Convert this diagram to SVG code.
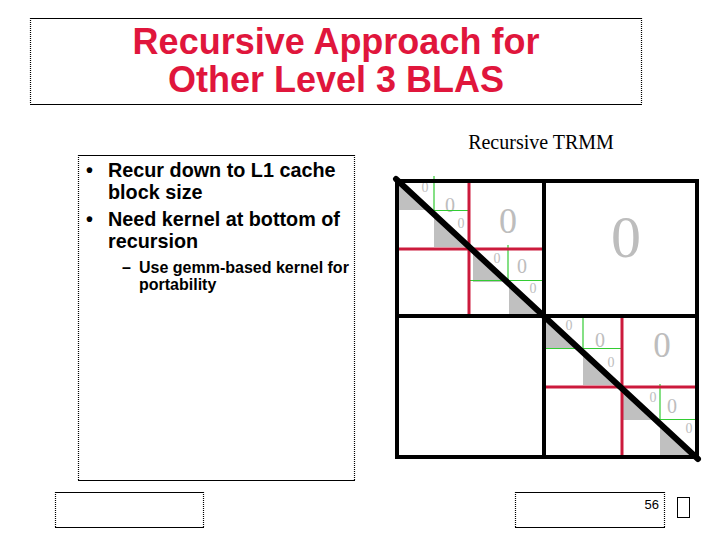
<svg xmlns="http://www.w3.org/2000/svg" width="720" height="540" viewBox="0 0 720 540">
<style>
.solid{stroke:#000;stroke-width:1.2;fill:none}
.dot{stroke:#000;stroke-width:1.2;stroke-dasharray:1 1;fill:none}
.title{font-family:"Liberation Sans",Arial,sans-serif;font-weight:bold;font-size:36px;fill:#e0163c;text-anchor:middle}
.b1{font-family:"Liberation Sans",Arial,sans-serif;font-weight:bold;font-size:19.8px;fill:#000}
.b2{font-family:"Liberation Sans",Arial,sans-serif;font-weight:bold;font-size:16px;fill:#000}
.z{font-family:"Liberation Serif","Times New Roman",serif;fill:#bdbdbd;text-anchor:middle}
.tri{fill:#c0c0c0}
.g{stroke:#33cc33;stroke-width:1.2;fill:none}
.r{stroke:#cc1a3c;stroke-width:3;fill:none}
.k{stroke:#000;stroke-width:4;fill:none}
</style>
<rect width="720" height="540" fill="#fff"/>

<g id="title">
  <line class="solid" x1="30" y1="18.5" x2="642" y2="18.5"/>
  <line class="solid" x1="30" y1="104.5" x2="642" y2="104.5"/>
  <line class="dot" x1="30.5" y1="18" x2="30.5" y2="104"/>
  <line class="dot" x1="641.5" y1="18" x2="641.5" y2="104"/>
  <text class="title" x="336" y="54">Recursive Approach for</text>
  <text class="title" x="336" y="92">Other Level 3 BLAS</text>
</g>

<g id="caption">
  <text x="541" y="149" font-family="'Liberation Serif','Times New Roman',serif" font-size="20" text-anchor="middle" fill="#000">Recursive TRMM</text>
</g>

<g id="bullets">
  <line class="solid" x1="78" y1="155.5" x2="355" y2="155.5"/>
  <line class="solid" x1="78" y1="480.5" x2="355" y2="480.5"/>
  <line class="dot" x1="78.5" y1="155" x2="78.5" y2="480"/>
  <line class="dot" x1="354.5" y1="155" x2="354.5" y2="480"/>
  <text class="b1" x="86" y="177">•</text>
  <text class="b1" x="108" y="177">Recur down to L1 cache</text>
  <text class="b1" x="108" y="199">block size</text>
  <text class="b1" x="86" y="226">•</text>
  <text class="b1" x="108" y="226">Need kernel at bottom of</text>
  <text class="b1" x="108" y="248">recursion</text>
  <text class="b2" x="122" y="273">–</text>
  <text class="b2" x="139" y="273">Use gemm-based kernel for</text>
  <text class="b2" x="139" y="290">portability</text>
</g>

<g id="matrix">
  <g id="gray">
    <polygon class="tri" points="398,183 398,210 426,210"/>
    <polygon class="tri" points="434,212 434,247 466,247"/>
    <polygon class="tri" points="473,253 473,282 503,282"/>
    <polygon class="tri" points="509,283 509,314 541,314"/>
    <polygon class="tri" points="546,320 546,348 576,348"/>
    <polygon class="tri" points="583,350 583,385 619,385"/>
    <polygon class="tri" points="623,390 623,420 657,420"/>
    <polygon class="tri" points="660,421 660,456 694,456"/>
  </g>
  <g id="zeros">
    <text class="z" x="425" y="192" font-size="14">0</text>
    <text class="z" x="450" y="212" font-size="20">0</text>
    <text class="z" x="461" y="228" font-size="14">0</text>
    <text class="z" x="497" y="263" font-size="14">0</text>
    <text class="z" x="522" y="273" font-size="20">0</text>
    <text class="z" x="533" y="293" font-size="14">0</text>
    <text class="z" x="569" y="330" font-size="14">0</text>
    <text class="z" x="600" y="347" font-size="20">0</text>
    <text class="z" x="611" y="367" font-size="14">0</text>
    <text class="z" x="653" y="402" font-size="14">0</text>
    <text class="z" x="672" y="413" font-size="20">0</text>
    <text class="z" x="689" y="433" font-size="14">0</text>
    <text class="z" x="508" y="233" font-size="36">0</text>
    <text class="z" x="626" y="257" font-size="60">0</text>
    <text class="z" x="662" y="357" font-size="35">0</text>
  </g>
  <g id="green">
    <line class="g" x1="434" y1="176" x2="434" y2="210"/>
    <line class="g" x1="426" y1="210.5" x2="469" y2="210.5"/>
    <line class="g" x1="508" y1="245" x2="508" y2="280"/>
    <line class="g" x1="470" y1="280.5" x2="544" y2="280.5"/>
    <line class="g" x1="583" y1="316" x2="583" y2="348"/>
    <line class="g" x1="545" y1="348.5" x2="622" y2="348.5"/>
    <line class="g" x1="660" y1="384" x2="660" y2="419"/>
    <line class="g" x1="657" y1="419.5" x2="697" y2="419.5"/>
  </g>
  <g id="red">
    <line class="r" x1="469" y1="181" x2="469" y2="316"/>
    <line class="r" x1="397" y1="249" x2="545" y2="249"/>
    <line class="r" x1="622" y1="316" x2="622" y2="457"/>
    <line class="r" x1="542" y1="387" x2="697" y2="387"/>
  </g>
  <g id="grid">
    <rect class="k" x="397" y="181" width="300" height="276"/>
    <line class="k" x1="544" y1="181" x2="544" y2="457"/>
    <line class="k" x1="397" y1="316" x2="697" y2="316"/>
  </g>
  <line id="diagonal" x1="396" y1="179" x2="698" y2="459" stroke="#000" stroke-width="6" stroke-linecap="round"/>
</g>

<g id="footer">
  <line class="solid" x1="55" y1="492.5" x2="204" y2="492.5"/>
  <line class="solid" x1="55" y1="527.5" x2="204" y2="527.5"/>
  <line class="dot" x1="55.5" y1="492" x2="55.5" y2="528"/>
  <line class="dot" x1="203.5" y1="492" x2="203.5" y2="528"/>
  <line class="solid" x1="515" y1="492.5" x2="665" y2="492.5"/>
  <line class="solid" x1="515" y1="527.5" x2="665" y2="527.5"/>
  <line class="dot" x1="515.5" y1="492" x2="515.5" y2="528"/>
  <line class="dot" x1="664.5" y1="492" x2="664.5" y2="528"/>
  <text x="659" y="509" font-family="'Liberation Sans',Arial,sans-serif" font-size="13" text-anchor="end" fill="#000">56</text>
  <rect x="677.5" y="497.5" width="12" height="20" fill="none" stroke="#000" stroke-width="1"/>
</g>
</svg>
